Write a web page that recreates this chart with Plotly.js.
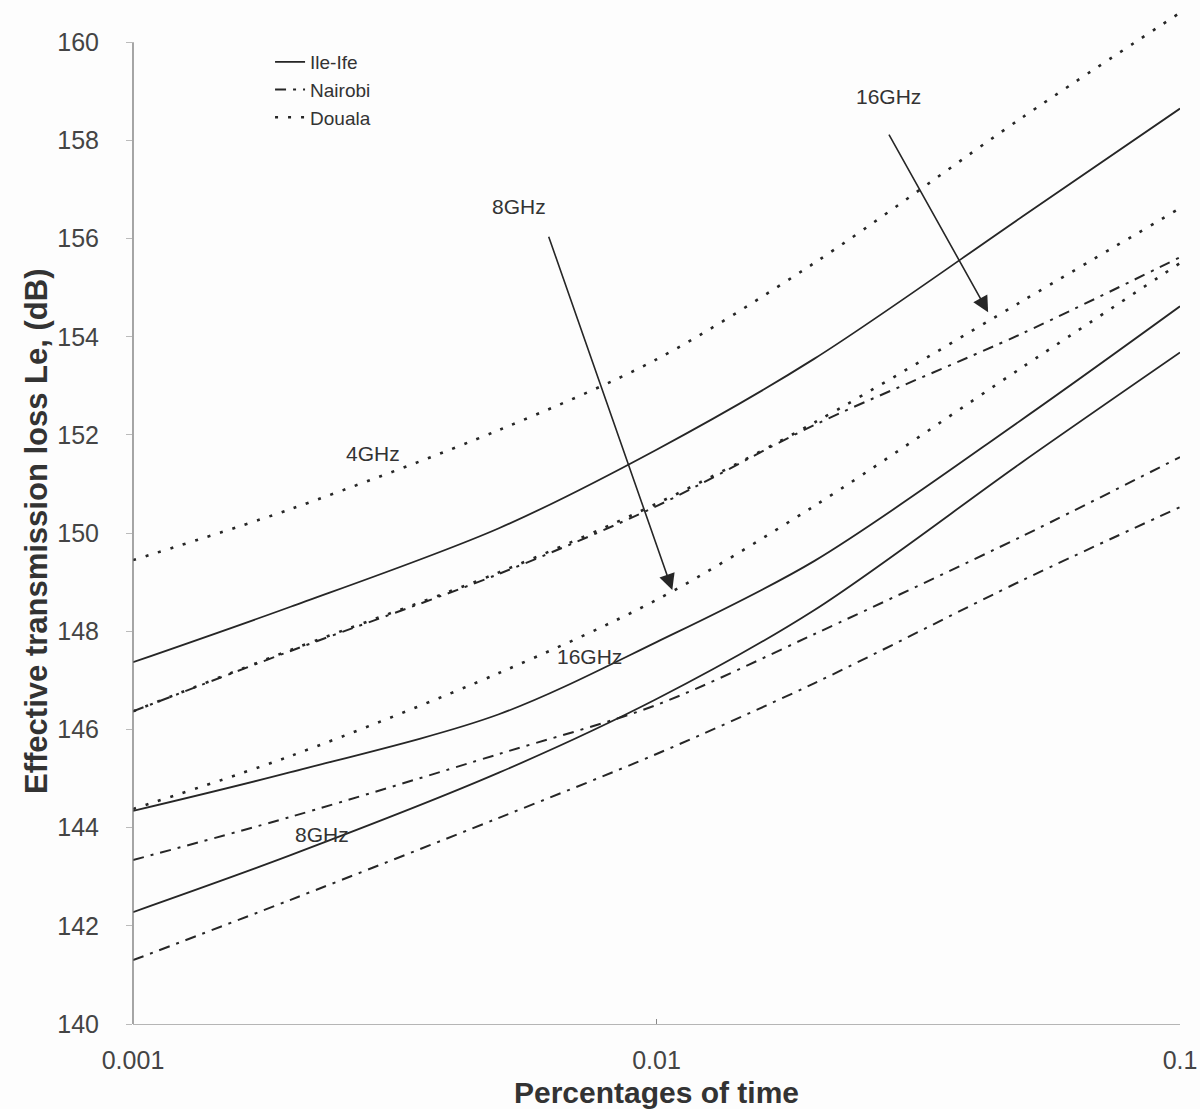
<!DOCTYPE html>
<html>
<head>
<meta charset="utf-8">
<script src="https://cdn.plot.ly/plotly-3.0.1.min.js"></script>
<style>
  html, body { margin: 0; padding: 0; background: #fdfdfd; }
  #chart { width: 1200px; height: 1109px; }
</style>
</head>
<body>
<div id="chart"></div>
<script>
// Percentage of time (log axis)
const pctTime = [0.001, 0.002, 0.005, 0.01, 0.02, 0.05, 0.1];

// Effective transmission loss Le (dB) per site and frequency
const ileIfe4  = [147.37, 148.50, 150.10, 151.70, 153.55, 156.45, 158.65];
const ileIfe16 = [144.34, 145.13, 146.31, 147.78, 149.43, 152.32, 154.62];
const ileIfe8  = [142.28, 143.44, 145.12, 146.62, 148.43, 151.45, 153.68];

const nairobi4  = [146.37, 147.60, 149.17, 150.55, 152.20, 154.07, 155.62];
const nairobi16 = [143.34, 144.22, 145.50, 146.50, 147.94, 149.94, 151.55];
const nairobi8  = [141.30, 142.53, 144.20, 145.50, 146.94, 149.04, 150.53];

const douala4  = [149.45, 150.49, 152.10, 153.54, 155.50, 158.47, 160.60];
const douala16 = [146.37, 147.62, 149.20, 150.60, 152.25, 154.73, 156.62];
const douala8  = [144.38, 145.46, 147.15, 148.64, 150.55, 153.38, 155.50];

const yTicks = [140, 142, 144, 146, 148, 150, 152, 154, 156, 158, 160];
const xTicks = [0.001, 0.01, 0.1];
const xTickText = ['0.001', '0.01', '0.1'];

const xTitle = 'Percentages of time';
const yTitle = 'Effective transmission loss Le, (dB)';

// Frequency labels written on the plot: [text, percentage, dB]
const freqLabels = [
  ['4GHz', 0.00287, 151.63],
  ['16GHz', 0.00746, 147.49],
  ['8GHz', 0.00230, 143.87]
];
// Pointer labels: [text, label %, label dB, tail %, tail dB, head %, head dB]
const pointerLabels = [
  ['8GHz', 0.00546, 156.66, 0.00621, 156.07, 0.01072, 148.84],
  ['16GHz', 0.0278, 158.90, 0.0277, 158.15, 0.0430, 154.50]
];

const INK = '#262626';
const FONT = 'Liberation Sans, Arial, Helvetica, sans-serif';

const styles = {
  'Ile-Ife': { dash: 'solid', width: 1.8 },
  'Nairobi': { dash: '11px,7px,3px,7px', width: 2 },
  'Douala':  { dash: '3px,10px', width: 2.6 }
};

const groups = [
  ['Ile-Ife', [ileIfe4, ileIfe16, ileIfe8]],
  ['Nairobi', [nairobi4, nairobi16, nairobi8]],
  ['Douala',  [douala4, douala16, douala8]]
];

const traces = [];
groups.forEach(([site, series]) => {
  series.forEach((ys, i) => {
    traces.push({
      x: pctTime,
      y: ys,
      type: 'scatter',
      mode: 'lines',
      name: site,
      showlegend: i === 0,
      line: { color: INK, width: styles[site].width, dash: styles[site].dash, shape: 'spline', smoothing: 0.9 },
      hoverinfo: 'x+y+name'
    });
  });
});

const annotations = [];
freqLabels.forEach(([txt, px, db]) => {
  annotations.push({
    x: Math.log10(px), y: db, xref: 'x', yref: 'y',
    text: txt, showarrow: false,
    font: { family: FONT, size: 21, color: '#333' }
  });
});
pointerLabels.forEach(([txt, lx, ly, tx, ty, hx, hy]) => {
  annotations.push({
    x: Math.log10(lx), y: ly, xref: 'x', yref: 'y',
    text: txt, showarrow: false,
    font: { family: FONT, size: 21, color: '#333' }
  });
  annotations.push({
    x: Math.log10(hx), y: hy, xref: 'x', yref: 'y',
    ax: Math.log10(tx), ay: ty, axref: 'x', ayref: 'y',
    text: '', showarrow: true,
    arrowhead: 2, arrowsize: 2, arrowwidth: 1.6, arrowcolor: INK
  });
});

// Value-axis title, centred on the 140-160 dB span
annotations.push({
  xref: 'paper', yref: 'paper', x: -0.0917, y: 0.4829,
  xanchor: 'center', yanchor: 'middle', textangle: -90,
  text: '<b>' + yTitle + '</b>', showarrow: false,
  font: { family: FONT, size: 31, color: '#333' }
});

// The value axis is drawn up to 160 dB only; the plot area runs a little higher
// so the steepest curve is not cut off at the top.
const Y_MIN = 140, Y_TOP_TICK = 160, Y_MAX = 160.8;

const layout = {
  width: 1200,
  height: 1109,
  margin: { l: 133, r: 20, t: 3, b: 85 },
  paper_bgcolor: '#fdfdfd',
  plot_bgcolor: 'rgba(0,0,0,0)',
  font: { family: FONT, color: '#333' },
  showlegend: true,
  legend: {
    x: 0.1309, y: 0.9608, xanchor: 'left', yanchor: 'top',
    bgcolor: 'rgba(0,0,0,0)', borderwidth: 0,
    font: { family: FONT, size: 19, color: '#333' },
    traceorder: 'normal'
  },
  xaxis: {
    type: 'log',
    range: [-3, -1],
    tickmode: 'array',
    tickvals: xTicks,
    ticktext: xTickText,
    ticks: 'inside', ticklen: 5, tickcolor: '#888',
    ticklabelstandoff: 14,
    showline: true, linecolor: '#b5b5b5', linewidth: 1.2,
    showgrid: false, zeroline: false,
    tickfont: { family: FONT, size: 25, color: '#444' },
    title: { text: '<b>' + xTitle + '</b>', font: { family: FONT, size: 30, color: '#333' }, standoff: 8 }
  },
  yaxis: {
    range: [Y_MIN, Y_MAX],
    tickmode: 'array',
    tickvals: yTicks,
    ticks: 'outside', ticklen: 6, tickcolor: '#bbb',
    ticklabelstandoff: 22,
    showline: false,
    showgrid: false, zeroline: false,
    tickfont: { family: FONT, size: 25, color: '#444' }
  },
  shapes: [{
    type: 'line', xref: 'paper', yref: 'y',
    x0: 0, x1: 0, y0: Y_MIN, y1: Y_TOP_TICK,
    line: { color: '#777', width: 1.3 }
  }],
  annotations: annotations
};

Plotly.newPlot('chart', traces, layout, { displayModeBar: false, staticPlot: true });
</script>
</body>
</html>
